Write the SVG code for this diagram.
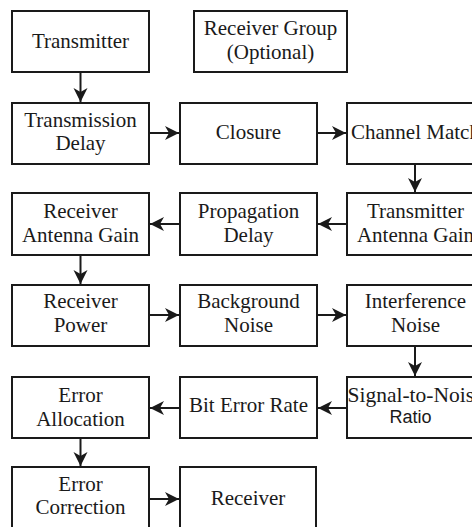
<svg xmlns="http://www.w3.org/2000/svg" width="472" height="527" viewBox="0 0 472 527">
<defs>
<style>
.box{fill:#fff;stroke:#1a1a1a;stroke-width:2}
.t{font-family:"Liberation Serif","Times New Roman",serif;font-size:21px;fill:#1a1a1a;text-anchor:middle}
.s{font-family:"Liberation Sans",Arial,sans-serif;font-size:18px;fill:#1a1a1a;text-anchor:middle}
.c{fill:none;stroke:#1a1a1a;stroke-width:2}
</style>
<marker id="ah" markerUnits="userSpaceOnUse" markerWidth="15" markerHeight="15" viewBox="0 0 15 15" refX="14" refY="7.5" orient="auto">
<path d="M0,0.5 L14,7.5 L0,14.5 L4,7.5 Z" fill="#1a1a1a"/>
</marker>
</defs>
<rect width="472" height="527" fill="#fff"/>
<g id="connectors">
<line class="c" x1="80.5" y1="72" x2="80.5" y2="102" marker-end="url(#ah)"/>
<line class="c" x1="149" y1="133" x2="179" y2="133" marker-end="url(#ah)"/>
<line class="c" x1="317" y1="133" x2="346" y2="133" marker-end="url(#ah)"/>
<line class="c" x1="415" y1="164" x2="415" y2="192" marker-end="url(#ah)"/>
<line class="c" x1="347" y1="224" x2="318" y2="224" marker-end="url(#ah)"/>
<line class="c" x1="180" y1="224" x2="150" y2="224" marker-end="url(#ah)"/>
<line class="c" x1="80.5" y1="255" x2="80.5" y2="284" marker-end="url(#ah)"/>
<line class="c" x1="149" y1="315" x2="179" y2="315" marker-end="url(#ah)"/>
<line class="c" x1="317" y1="315" x2="346" y2="315" marker-end="url(#ah)"/>
<line class="c" x1="415" y1="346" x2="415" y2="376" marker-end="url(#ah)"/>
<line class="c" x1="347" y1="408" x2="318" y2="408" marker-end="url(#ah)"/>
<line class="c" x1="180" y1="408" x2="150" y2="408" marker-end="url(#ah)"/>
<line class="c" x1="80.5" y1="438" x2="80.5" y2="466" marker-end="url(#ah)"/>
<line class="c" x1="149" y1="499" x2="179" y2="499" marker-end="url(#ah)"/>
</g>
<g id="transmitter"><rect class="box" x="12" y="11" width="137" height="61"/><text class="t" x="80.5" y="48">Transmitter</text></g>
<g id="receiver-group"><rect class="box" x="194" y="11" width="153" height="61"/><text class="t" x="270.5" y="35">Receiver Group</text><text class="t" x="270.5" y="59">(Optional)</text></g>
<g id="transmission-delay"><rect class="box" x="12" y="103" width="137" height="61"/><text class="t" x="80.5" y="127">Transmission</text><text class="t" x="80.5" y="150">Delay</text></g>
<g id="closure"><rect class="box" x="180" y="103" width="137" height="61"/><text class="t" x="248.5" y="139">Closure</text></g>
<g id="channel-match"><rect class="box" x="347" y="103" width="137" height="61"/><text class="t" x="415.5" y="139">Channel Match</text></g>
<g id="receiver-antenna-gain"><rect class="box" x="12" y="193" width="137" height="62"/><text class="t" x="80.5" y="218">Receiver</text><text class="t" x="80.5" y="241.5">Antenna Gain</text></g>
<g id="propagation-delay"><rect class="box" x="180" y="193" width="137" height="62"/><text class="t" x="248.5" y="218">Propagation</text><text class="t" x="248.5" y="241.5">Delay</text></g>
<g id="transmitter-antenna-gain"><rect class="box" x="347" y="193" width="137" height="62"/><text class="t" x="415.5" y="218">Transmitter</text><text class="t" x="415.5" y="241.5">Antenna Gain</text></g>
<g id="receiver-power"><rect class="box" x="12" y="285" width="137" height="61"/><text class="t" x="80.5" y="308">Receiver</text><text class="t" x="80.5" y="331.5">Power</text></g>
<g id="background-noise"><rect class="box" x="180" y="285" width="137" height="61"/><text class="t" x="248.5" y="308">Background</text><text class="t" x="248.5" y="331.5">Noise</text></g>
<g id="interference-noise"><rect class="box" x="347" y="285" width="137" height="61"/><text class="t" x="415.5" y="308">Interference</text><text class="t" x="415.5" y="331.5">Noise</text></g>
<g id="error-allocation"><rect class="box" x="12" y="377" width="137" height="61"/><text class="t" x="80.5" y="401.5">Error</text><text class="t" x="80.5" y="425.5">Allocation</text></g>
<g id="bit-error-rate"><rect class="box" x="180" y="377" width="137" height="61"/><text class="t" x="248.5" y="411.5">Bit Error Rate</text></g>
<g id="snr"><rect class="box" x="347" y="377" width="137" height="61"/><text class="t" x="347.5" y="401.5" style="text-anchor:start;font-size:21.5px">Signal-to-Noise</text><text class="s" x="410.5" y="422.5">Ratio</text></g>
<g id="error-correction"><rect class="box" x="12" y="467" width="137" height="64"/><text class="t" x="80.5" y="490.5">Error</text><text class="t" x="80.5" y="514">Correction</text></g>
<g id="receiver"><rect class="box" x="180" y="467" width="136" height="64"/><text class="t" x="248" y="505">Receiver</text></g>
</svg>
